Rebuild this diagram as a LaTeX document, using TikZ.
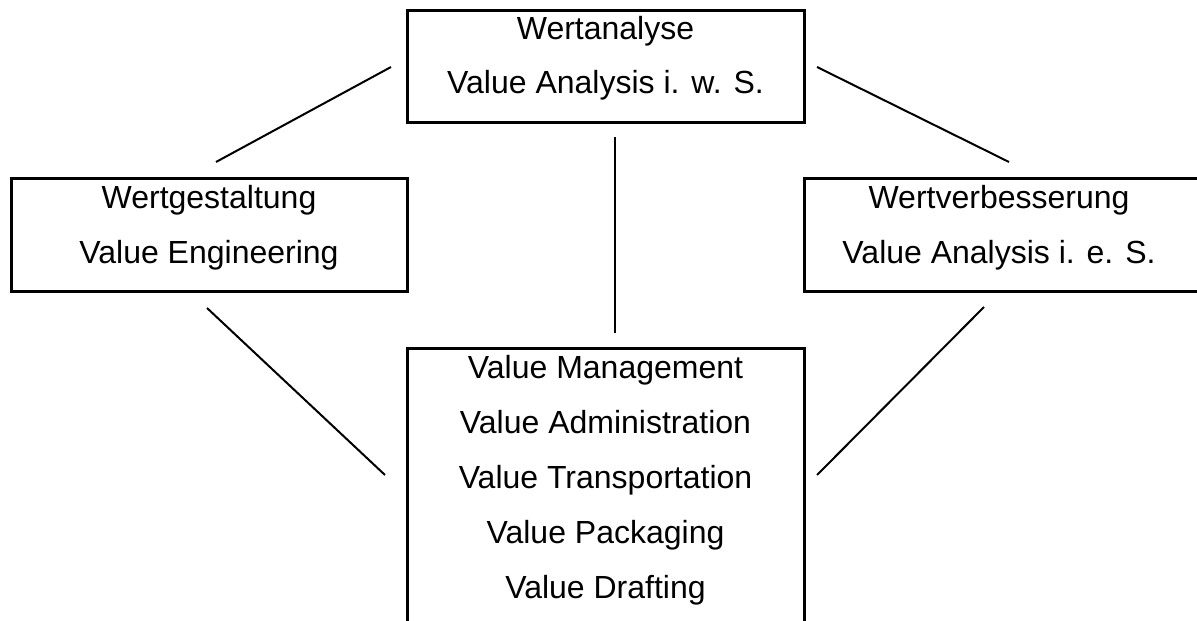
\documentclass[tikz,border=0pt]{standalone}
\usepackage{fontspec}
\setmainfont{Liberation Sans}
\usetikzlibrary{positioning}

\begin{document}
\begin{tikzpicture}
    [x=0.5pt,y=-0.5pt,
     box/.style={draw, line width=1.5pt, rectangle, inner sep=0pt, minimum width=198pt, minimum height=56pt},
     lbl/.style={draw=none, anchor=base, inner sep=0pt, font=\fontsize{16pt}{19pt}\selectfont}]
  \useasboundingbox[fill=white] (0,0) rectangle (1197,620);

  % the four boxes
  \node[box, minimum width=198.5pt] (wa) at (605.5,67) {};
  \node[box] (wg) at (209,235) {};
  \node[box] (wv) at (1002,235) {};
  \node[box, minimum width=198.5pt, minimum height=146pt] (vm) at (605.5,494) {};

  \node (wa1) [lbl] at (605.5,40) {Wertanalyse};
  \node (wa2) [lbl] at (605.5,94) {Value Analysis i. w. S.};

  \node (wg1) [lbl] at (209,208) {Wertgestaltung};
  \node (wg2) [lbl] at (209,263) {Value Engineering};

  \node (wv1) [lbl] at (999,208) {Wertverbesserung};
  \node (wv2) [lbl] at (999,263) {Value Analysis i. e. S.};

  \node (vm1) [lbl] at (605.5,378) {Value Management};
  \node (vm2) [lbl] at (605.5,433) {Value Administration};
  \node (vm3) [lbl] at (605.5,488) {Value Transportation};
  \node (vm4) [lbl] at (605.5,543) {Value Packaging};
  \node (vm5) [lbl] at (605.5,598) {Value Drafting};

  % loose ends of the connecting strokes
  \coordinate (wa-wg) at (391,67);   \coordinate (wg-wa) at (216,162);
  \coordinate (wa-wv) at (817,67);   \coordinate (wv-wa) at (1009,162);
  \coordinate (wa-vm) at (615,137);  \coordinate (vm-wa) at (615,333);
  \coordinate (wg-vm) at (207,308);  \coordinate (vm-wg) at (385,475);
  \coordinate (wv-vm) at (984,307);  \coordinate (vm-wv) at (817,475);

  \foreach \from/\to in {wa-wg/wg-wa, wa-wv/wv-wa, wa-vm/vm-wa, wg-vm/vm-wg, wv-vm/vm-wv}
    \draw[line width=1pt] (\from) -- (\to);
\end{tikzpicture}
\end{document}
